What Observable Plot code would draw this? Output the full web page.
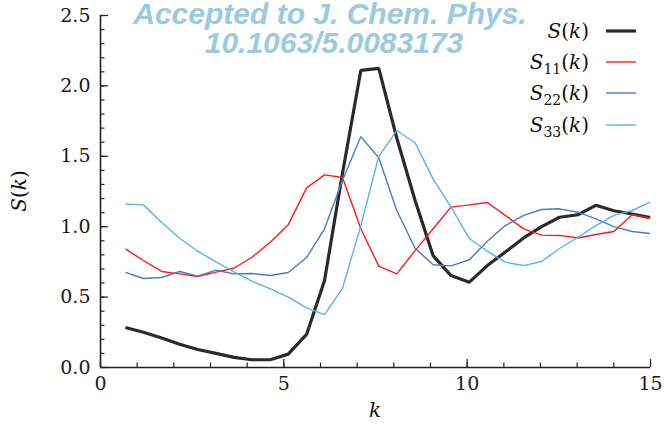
<!DOCTYPE html>
<html>
<head>
<meta charset="utf-8">
<script src="https://cdn.jsdelivr.net/npm/d3@7"></script>
<script src="https://cdn.jsdelivr.net/npm/@observablehq/plot@0.6"></script>
<style>
  html, body { margin: 0; padding: 0; background: #fff; }
  #chart { width: 664px; height: 424px; }
  #chart svg text, #chart svg tspan { font-family: "DejaVu Serif", "Liberation Serif", serif !important; }
  #chart svg g.stamp text { font-family: "Liberation Sans", "DejaVu Sans", sans-serif !important; }
</style>
</head>
<body>
<div id="chart"></div>
<script>
// Wavevector grid (k) and structure factors
const k = [0.68, 1.17, 1.67, 2.16, 2.65, 3.15, 3.64, 4.13, 4.63, 5.12,
           5.62, 6.11, 6.60, 7.10, 7.59, 8.08, 8.58, 9.07, 9.56, 10.06,
           10.55, 11.04, 11.54, 12.03, 12.52, 13.02, 13.51, 14.00, 14.50, 14.99];
const S = [0.284, 0.25, 0.21, 0.165, 0.128, 0.10, 0.072, 0.055, 0.055, 0.095,
           0.235, 0.618, 1.38, 2.11, 2.125, 1.63, 1.186, 0.795, 0.653, 0.606,
           0.724, 0.82, 0.92, 1.0, 1.067, 1.085, 1.152, 1.113, 1.09, 1.064];
const S11 = [0.843, 0.76, 0.682, 0.665, 0.646, 0.677, 0.705, 0.783, 0.89, 1.013,
             1.276, 1.368, 1.349, 0.985, 0.72, 0.665, 0.83, 0.985, 1.139, 1.155,
             1.172, 1.08, 0.985, 0.94, 0.938, 0.92, 0.945, 0.966, 1.085, 1.06];
const S22 = [0.675, 0.632, 0.639, 0.682, 0.649, 0.691, 0.665, 0.668, 0.653, 0.675,
             0.781, 0.985, 1.33, 1.64, 1.49, 1.115, 0.847, 0.73, 0.722, 0.765,
             0.897, 1.008, 1.08, 1.122, 1.127, 1.103, 1.056, 1.001, 0.966, 0.952];
const S33 = [1.16, 1.155, 1.03, 0.918, 0.826, 0.75, 0.68, 0.613, 0.559, 0.5,
             0.424, 0.376, 0.562, 1.008, 1.50, 1.683, 1.596, 1.34, 1.139, 0.916,
             0.826, 0.748, 0.724, 0.753, 0.845, 0.925, 1.008, 1.08, 1.115, 1.174];

const seriesNames = ["S", "S11", "S22", "S33"];
const seriesValues = [S, S11, S22, S33];
const seriesSubs = ["", "11", "22", "33"];
const seriesColors = ["#2a2a2a", "#ff1a1a", "#4a7dbf", "#58b3e6"];
const seriesWidths = [3.2, 1.4, 1.4, 1.4];

const xMajor = [0, 5, 10, 15];
const xMinor = d3.range(0, 16, 1);
const yMajor = [0, 0.5, 1.0, 1.5, 2.0, 2.5];
const yMinor = d3.range(0, 2.51, 0.1);

const rows = [];
seriesNames.forEach((name, j) => {
  k.forEach((kv, i) => rows.push({series: name, k: kv, v: seriesValues[j][i]}));
});

const axisColor = "#222";

const lineMarks = seriesNames.map((name, j) =>
  Plot.line(rows.filter(d => d.series === name), {
    x: "k", y: "v",
    stroke: seriesColors[j],
    strokeWidth: seriesWidths[j],
    strokeLinejoin: "miter",
    strokeLinecap: "butt"
  })
);

const plot = Plot.plot({
  width: 664,
  height: 424,
  marginLeft: 100,
  marginRight: 14,
  marginTop: 15,
  marginBottom: 57,
  style: {fontSize: "19px", color: axisColor, background: "#fff"},
  x: {domain: [0, 15], label: null},
  y: {domain: [0, 2.5], label: null},
  marks: [
    ...lineMarks,
    // inward major / minor ticks
    Plot.axisY({ticks: yMinor, tickSize: 4.5, dx: 4.5, tickFormat: () => "", stroke: axisColor, strokeWidth: 1.2}),
    Plot.axisY({ticks: yMajor, tickSize: 8, dx: 8, tickFormat: () => "", stroke: axisColor, strokeWidth: 1.2}),
    Plot.axisX({ticks: xMinor, tickSize: 4.5, dy: -4.5, tickFormat: () => "", stroke: axisColor, strokeWidth: 1.2}),
    Plot.axisX({ticks: xMajor, tickSize: 8, dy: -8, tickFormat: () => "", stroke: axisColor, strokeWidth: 1.2}),
    // tick labels
    Plot.axisY({ticks: yMajor, tickSize: 0, tickPadding: 10, tickFormat: d3.format(".1f"), fontSize: 19, fill: "#1a1a1a"}),
    Plot.axisX({ticks: xMajor, tickSize: 0, tickPadding: 9, tickFormat: d3.format("d"), fontSize: 19, fill: "#1a1a1a"}),
    // axis lines
    Plot.ruleX([0], {stroke: axisColor, strokeWidth: 1.6}),
    Plot.ruleY([0], {stroke: axisColor, strokeWidth: 1.6})
  ]
});

document.getElementById("chart").appendChild(plot);
const svg = d3.select(plot);
svg.selectAll("text").style("font-variant", "normal");

// axis titles
const yt = svg.append("text")
  .attr("transform", "translate(26,191) rotate(-90)")
  .attr("text-anchor", "middle")
  .style("font-size", "20px").attr("fill", "#111");
yt.append("tspan").style("font-style", "italic").text("S");
yt.append("tspan").text("(");
yt.append("tspan").style("font-style", "italic").text("k");
yt.append("tspan").text(")");

svg.append("text")
  .attr("x", 375).attr("y", 417)
  .attr("text-anchor", "middle")
  .style("font-size", "20px").style("font-style", "italic")
  .attr("fill", "#111").text("k");

// legend
const leg = svg.append("g").attr("fill", "#111");
const legRows = [31, 62, 93, 125];
seriesNames.forEach((name, j) => {
  const y = legRows[j];
  const t = leg.append("text").attr("x", 589).attr("y", y + 7).attr("text-anchor", "end")
    .style("font-size", "20px");
  t.append("tspan").style("font-style", "italic").text("S");
  if (seriesSubs[j]) {
    t.append("tspan").style("font-size", "14px").attr("dy", 5).text(seriesSubs[j]);
    t.append("tspan").attr("dy", -5).text("(");
  } else {
    t.append("tspan").text("(");
  }
  t.append("tspan").style("font-style", "italic").text("k");
  t.append("tspan").text(")");
  leg.append("line")
    .attr("x1", 606).attr("x2", 636).attr("y1", y).attr("y2", y)
    .attr("stroke", seriesColors[j]).attr("stroke-width", seriesWidths[j]);
});

// journal stamp
const stamp = svg.append("g").attr("class", "stamp")
  .style("font-weight", "bold").style("font-style", "italic")
  .style("font-size", "30px").attr("fill", "#9ccade").attr("text-anchor", "middle");
stamp.append("text").attr("x", 330).attr("y", 24).text("Accepted to J. Chem. Phys.");
stamp.append("text").attr("x", 334).attr("y", 53).text("10.1063/5.0083173");
</script>
</body>
</html>
